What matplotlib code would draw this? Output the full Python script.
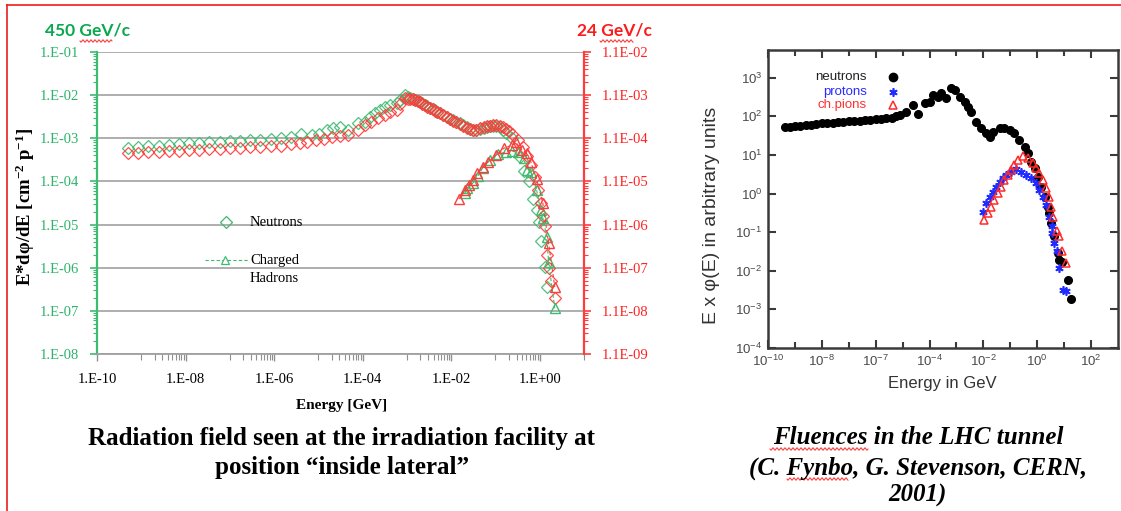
import numpy as np
import matplotlib
matplotlib.use("Agg")
import matplotlib.pyplot as plt
from matplotlib.lines import Line2D
from matplotlib.ticker import FixedLocator, FixedFormatter, NullFormatter

plt.rcParams['mathtext.default'] = 'regular'

# ---------------- Left chart data (log10 values) ----------------
n450_logE = [-9.30, -9.07, -8.84, -8.61, -8.38, -8.15, -7.92, -7.69, -7.46, -7.23, -7.00, -6.77,
             -6.54, -6.31, -6.08, -5.85, -5.62, -5.40, -5.15, -4.98, -4.81, -4.67, -4.51, -4.33,
             -4.11, -3.95, -3.84, -3.72, -3.61, -3.50, -3.39, -3.23, -3.16, -3.05, -2.98, -2.93,
             -2.87, -2.82, -2.76, -2.71, -2.65, -2.60, -2.54, -2.48, -2.42, -2.37, -2.31, -2.26,
             -2.18, -2.10, -2.03, -1.96, -1.88, -1.81, -1.73, -1.65, -1.58, -1.51, -1.43, -1.35,
             -1.27, -1.20, -1.13, -1.06, -0.98, -0.90, -0.83, -0.77, -0.63, -0.45, -0.36, -0.25,
             -0.16, -0.07, -0.02, 0.02, 0.11, 0.16]
n450_logV = [-3.23, -3.21, -3.19, -3.17, -3.15, -3.13, -3.11, -3.10, -3.09, -3.08, -3.07, -3.06,
             -3.05, -3.04, -3.02, -3.00, -2.96, -2.90, -2.93, -2.90, -2.81, -2.76, -2.74, -2.81,
             -2.65, -2.62, -2.51, -2.42, -2.35, -2.28, -2.23, -2.18, -2.11, -2.00, -2.04, -2.07,
             -2.09, -2.11, -2.13, -2.16, -2.19, -2.23, -2.26, -2.30, -2.32, -2.35, -2.38, -2.42,
             -2.46, -2.51, -2.55, -2.58, -2.62, -2.65, -2.70, -2.74, -2.78, -2.81, -2.80, -2.79,
             -2.76, -2.74, -2.72, -2.71, -2.72, -2.74, -2.80, -2.88, -3.00, -3.44, -3.76, -4.00,
             -4.40, -4.67, -4.94, -5.39, -5.99, -6.45]

n24_logE = [-9.30, -9.07, -8.84, -8.61, -8.38, -8.15, -7.92, -7.69, -7.46, -7.23, -7.00, -6.77,
            -6.54, -6.31, -6.08, -5.85, -5.62, -5.42, -5.25, -5.06, -4.88, -4.70, -4.51, -4.33,
            -4.11, -3.95, -3.80, -3.65, -3.50, -3.39, -3.23, -3.16, -3.05, -2.98, -2.93, -2.87,
            -2.82, -2.76, -2.71, -2.65, -2.60, -2.54, -2.48, -2.42, -2.37, -2.31, -2.26, -2.18,
            -2.10, -2.03, -1.96, -1.88, -1.81, -1.73, -1.65, -1.58, -1.51, -1.43, -1.35, -1.27,
            -1.20, -1.13, -1.06, -0.98, -0.90, -0.83, -0.77, -0.70, -0.63, -0.50, -0.38, -0.29,
            -0.20, -0.11, -0.05, 0.02, 0.07, 0.11, 0.16, 0.20, 0.25, 0.34]
n24_logV = [-3.35, -3.33, -3.32, -3.31, -3.30, -3.29, -3.28, -3.26, -3.25, -3.24, -3.23, -3.22,
            -3.21, -3.20, -3.19, -3.18, -3.14, -3.10, -3.09, -3.05, -3.01, -2.98, -2.95, -2.93,
            -2.81, -2.70, -2.62, -2.53, -2.46, -2.39, -2.35, -2.20, -2.07, -2.08, -2.09, -2.10,
            -2.12, -2.14, -2.17, -2.20, -2.23, -2.27, -2.30, -2.33, -2.36, -2.39, -2.42, -2.47,
            -2.51, -2.56, -2.59, -2.63, -2.67, -2.71, -2.75, -2.79, -2.81, -2.80, -2.77, -2.74,
            -2.72, -2.71, -2.70, -2.70, -2.71, -2.74, -2.78, -2.84, -2.90, -3.04, -3.20, -3.40,
            -3.62, -3.90, -4.20, -4.50, -4.80, -5.04, -5.71, -6.00, -6.31, -6.71]

h450_logE = [-1.69, -1.65, -1.51, -1.40, -1.29, -1.13, -0.95, -0.77, -0.63, -0.50, -0.36, -0.29,
             -0.20, -0.07, 0.02, 0.07, 0.16, 0.20, 0.34]
h450_logV = [-4.27, -4.16, -4.04, -3.88, -3.69, -3.51, -3.37, -3.32, -3.30, -3.32, -3.46, -3.74,
             -3.78, -4.20, -4.67, -4.85, -5.29, -5.87, -6.94]

h24_logE = [-1.83, -1.69, -1.60, -1.51, -1.42, -1.29, -1.17, -0.99, -0.81, -0.63, -0.54, -0.41,
            -0.29, -0.20, -0.07, 0.07, 0.20, 0.34]
h24_logV = [-4.41, -4.20, -4.09, -3.97, -3.81, -3.67, -3.55, -3.39, -3.23, -3.16, -3.09, -3.27,
            -3.34, -3.55, -3.95, -4.50, -5.43, -6.45]

left_xticks = [1e-10, 1e-8, 1e-6, 1e-4, 1e-2, 1e0]
left_xlabels = ['1.E-10', '1.E-08', '1.E-06', '1.E-04', '1.E-02', '1.E+00']
left_yticks = [1e-8, 1e-7, 1e-6, 1e-5, 1e-4, 1e-3, 1e-2, 1e-1]
left_ylabels = ['1.E-08', '1.E-07', '1.E-06', '1.E-05', '1.E-04', '1.E-03', '1.E-02', '1.E-01']
right_yticks = [1.1e-9, 1.1e-8, 1.1e-7, 1.1e-6, 1.1e-5, 1.1e-4, 1.1e-3, 1.1e-2]
right_ylabels = ['1.1E-09', '1.1E-08', '1.1E-07', '1.1E-06', '1.1E-05', '1.1E-04', '1.1E-03', '1.1E-02']

# ---------------- Right chart data (log10 values) ----------------
rn_logE = [-9.37, -9.2, -9.0, -8.8, -8.6, -8.4, -8.2, -8.0, -7.8, -7.6, -7.4, -7.2, -7.0, -6.8,
           -6.6, -6.4, -6.2, -6.0, -5.8, -5.6, -5.4, -5.25, -5.11, -4.86, -4.62, -4.44, -4.18,
           -4.00, -3.88, -3.70, -3.56, -3.38, -3.19, -3.07, -2.88, -2.70, -2.58, -2.45, -2.26,
           -2.08, -1.89, -1.77, -1.65, -1.40, -1.22, -1.03, -0.85, -0.66, -0.47, -0.35, -0.23,
           -0.10, 0.02, 0.14, 0.27, 0.39, 0.45, 0.51, 0.64, 0.76, 0.82, 0.92, 1.13, 1.25]
rn_logV = [1.72, 1.73, 1.75, 1.76, 1.78, 1.79, 1.80, 1.82, 1.83, 1.84, 1.85, 1.86, 1.87, 1.88,
           1.89, 1.90, 1.91, 1.93, 1.94, 1.95, 1.97, 2.00, 2.03, 2.12, 2.29, 2.06, 2.34,
           2.38, 2.55, 2.51, 2.60, 2.47, 2.73, 2.68, 2.51, 2.38, 2.25, 2.12, 1.86,
           1.69, 1.56, 1.47, 1.60, 1.69, 1.69, 1.65, 1.56, 1.39, 1.22, 1.04, 0.83,
           0.66, 0.44, 0.18, -0.08, -0.34, -0.51, -0.77, -1.11, -1.54, -1.72, -1.76, -2.23, -2.73]

rp_logE = [-2.02, -1.89, -1.77, -1.65, -1.52, -1.40, -1.28, -1.15, -0.97, -0.78, -0.60, -0.41,
           -0.23, -0.04, 0.08, 0.20, 0.33, 0.45, 0.55, 0.55, 0.64, 0.72, 0.80, 0.97, 1.05]
rp_logV = [-0.47, -0.25, -0.08, 0.05, 0.18, 0.31, 0.40, 0.48, 0.57, 0.63, 0.57, 0.48,
           0.40, 0.27, 0.10, -0.08, -0.29, -0.60, -0.85, -1.03, -1.28, -1.50, -1.93, -2.49, -2.53]

rpi_logE = [-1.96, -1.83, -1.71, -1.59, -1.46, -1.34, -1.22, -1.09, -0.97, -0.85, -0.72, -0.54,
            -0.35, -0.17, -0.04, 0.08, 0.20, 0.33, 0.43, 0.51, 0.60, 0.72, 0.81, 0.91, 1.05]
rpi_logV = [-0.68, -0.51, -0.34, -0.16, 0.01, 0.18, 0.35, 0.48, 0.61, 0.74, 0.87, 0.97,
            0.91, 0.79, 0.66, 0.53, 0.35, 0.14, -0.08, -0.34, -0.60, -0.98, -1.11, -1.50, -1.79]

rx_ticks = [1e-10, 1e-8, 1e-6, 1e-4, 1e-2, 1e0, 1e2]
rx_labels = [r'$10^{-10}$', r'$10^{-8}$', r'$10^{-7}$', r'$10^{-4}$', r'$10^{-2}$', r'$10^{0}$', r'$10^{2}$']
ry_ticks = [1e-4, 1e-3, 1e-2, 1e-1, 1e0, 1e1, 1e2, 1e3]
ry_labels = [r'$10^{-4}$', r'$10^{-3}$', r'$10^{-2}$', r'$10^{-1}$', r'$10^{0}$', r'$10^{1}$', r'$10^{2}$', r'$10^{3}$']

# ---------------- Figure ----------------
W, H = 1121, 511
fig = plt.figure(figsize=(W / 100, H / 100), dpi=100)
fig.patch.set_facecolor('white')

def fx(px):
    return px / W

def fy(py):
    return 1 - py / H

GREEN = '#3dbb6e'
GREEN_T = '#2db36a'
RED = '#ff3b3b'
RED_T = '#ff2222'
SERIF = 'Liberation Serif'
SANS = 'Liberation Sans'

# red slide frame
fig.add_artist(Line2D([fx(7), fx(7)], [fy(511), fy(5)], color='#ee1c1c', lw=1.2))
fig.add_artist(Line2D([fx(7), 1.0], [fy(5), fy(5)], color='#ee1c1c', lw=1.2))

# ---- left chart ----
ax = fig.add_axes([fx(97), fy(354), fx(584) - fx(97), fy(52) - fy(354)])
ax.set_xscale('log')
ax.set_yscale('log')
ax.set_xlim(1e-10, 1e1)
ax.set_ylim(1e-8, 1e-1)
ax.set_facecolor('none')

for k in left_yticks:
    ax.axhline(k, color='#a8a8a8', lw=1.3, zorder=0)

for s in ['top', 'right']:
    ax.spines[s].set_visible(False)
ax.spines['left'].set_color(GREEN)
ax.spines['left'].set_linewidth(1.6)
ax.spines['bottom'].set_color('#a0a0a0')
ax.spines['bottom'].set_linewidth(1.3)

ax.xaxis.set_major_locator(FixedLocator(left_xticks))
ax.xaxis.set_major_formatter(FixedFormatter(left_xlabels))
x_minor = [m * 10.0 ** (e + 1) for e in range(-10, 1, 2) for m in range(1, 10)]
ax.xaxis.set_minor_locator(FixedLocator(x_minor))
ax.xaxis.set_minor_formatter(NullFormatter())
ax.tick_params(axis='x', which='major', direction='out', length=5, width=1, color='#909090',
               labelsize=10.5, pad=9, labelcolor='black')
ax.tick_params(axis='x', which='minor', direction='out', length=4, width=0.8, color='#909090')
for t in ax.get_xticklabels():
    t.set_fontfamily(SERIF)

ax.yaxis.set_major_locator(FixedLocator(left_yticks))
ax.yaxis.set_major_formatter(FixedFormatter(left_ylabels))
y_minor = [m * 10.0 ** e for e in range(-8, -1) for m in range(2, 10)]
ax.yaxis.set_minor_locator(FixedLocator(y_minor))
ax.yaxis.set_minor_formatter(NullFormatter())
ax.tick_params(axis='y', which='major', direction='out', length=5, width=1.2, color=GREEN,
               labelsize=10.5, pad=8, labelcolor=GREEN_T)
ax.tick_params(axis='y', which='minor', direction='out', length=3, width=0.8, color=GREEN)
for t in ax.get_yticklabels():
    t.set_fontfamily(SERIF)

ax2 = ax.twinx()
ax2.set_yscale('log')
ax2.set_ylim(1.1e-9, 1.1e-2)
for s in ['top', 'left', 'bottom']:
    ax2.spines[s].set_visible(False)
ax2.spines['right'].set_color(RED)
ax2.spines['right'].set_linewidth(1.6)
ax2.yaxis.set_major_locator(FixedLocator(right_yticks))
ax2.yaxis.set_major_formatter(FixedFormatter(right_ylabels))
ax2.yaxis.set_minor_locator(FixedLocator([m * 1.1 * 10.0 ** e for e in range(-9, -2) for m in range(2, 10)]))
ax2.yaxis.set_minor_formatter(NullFormatter())
ax2.tick_params(axis='y', which='major', direction='out', length=5, width=1.2, color=RED,
                labelsize=10.5, pad=8, labelcolor=RED_T)
ax2.tick_params(axis='y', which='minor', direction='out', length=3, width=0.8, color=RED)
for t in ax2.get_yticklabels():
    t.set_fontfamily(SERIF)

def p10(a):
    return 10.0 ** np.asarray(a)

ax.plot(p10(n450_logE), p10(n450_logV), ls='none', marker='D', ms=6, mfc='none',
        mec=GREEN, mew=0.9, alpha=0.9, zorder=3)
ax.plot(p10(n24_logE), p10(n24_logV), ls='none', marker='D', ms=6, mfc='none',
        mec=RED, mew=0.9, alpha=0.9, zorder=3)
ax.plot(p10(h450_logE), p10(h450_logV), ls=(0, (3, 2)), lw=0.8, color=GREEN, marker='^', ms=7,
        mfc='none', mec=GREEN, mew=1.0, zorder=4)
ax.plot(p10(h24_logE), p10(h24_logV), ls=(0, (3, 2)), lw=0.8, color=RED, marker='^', ms=7,
        mfc='none', mec=RED, mew=1.0, zorder=4)

# in-plot legend
ax.plot([0.265], [0.437], transform=ax.transAxes, marker='D', ms=6, mfc='none', mec=GREEN, mew=0.9)
ax.text(0.314, 0.437, 'Neutrons', transform=ax.transAxes, family=SERIF, fontsize=10.5,
        va='center', ha='left')
ax.plot([0.222, 0.312], [0.311, 0.311], transform=ax.transAxes, ls=(0, (3, 2)), lw=0.8, color=GREEN)
ax.plot([0.262], [0.311], transform=ax.transAxes, marker='^', ms=6, mfc='white', mec=GREEN, mew=0.9)
ax.text(0.314, 0.311, 'Charged', transform=ax.transAxes, family=SERIF, fontsize=10.5,
        va='center', ha='left')
ax.text(0.314, 0.251, 'Hadrons', transform=ax.transAxes, family=SERIF, fontsize=10.5,
        va='center', ha='left')

fig.text(fx(45), fy(30), '450 GeV/c', family='Lato', weight='bold', fontsize=12.5,
         color='#0aa84f', va='center', ha='left')
fig.text(fx(577), fy(30), '24 GeV/c', family='Lato', weight='bold', fontsize=12.5,
         color='#ff1a1a', va='center', ha='left')
fig.text(fx(25), fy(207), r'E*dφ/dE [cm$^{-2}$ p$^{-1}$]', family=SERIF, weight='bold',
         fontsize=13.5, rotation=90, va='center', ha='center')
fig.text(fx(342), fy(405), 'Energy [GeV]', family=SERIF, weight='bold', fontsize=11,
         va='center', ha='center')
fig.text(fx(342), fy(438), 'Radiation field seen at the irradiation facility at', family=SERIF,
         weight='bold', fontsize=18, va='center', ha='center')
fig.text(fx(342), fy(467), 'position \u201cinside lateral\u201d', family=SERIF,
         weight='bold', fontsize=18, va='center', ha='center')

# ---- right chart ----
FR = '#3a3a3a'
TL = '#4a4a4a'
ax3 = fig.add_axes([fx(768), fy(348), fx(1118) - fx(768), fy(50) - fy(348)])
ax3.set_xscale('log')
ax3.set_yscale('log')
ax3.set_xlim(1e-10, 1e3)
ax3.set_ylim(1e-4, 10 ** 3.72)
for s in ax3.spines.values():
    s.set_color(FR)
    s.set_linewidth(1.8)
ax3.xaxis.set_major_locator(FixedLocator(rx_ticks))
ax3.xaxis.set_major_formatter(FixedFormatter(rx_labels))
ax3.xaxis.set_minor_locator(FixedLocator([10.0 ** e for e in range(-9, 3, 2)]))
ax3.xaxis.set_minor_formatter(NullFormatter())
ax3.yaxis.set_major_locator(FixedLocator(ry_ticks))
ax3.yaxis.set_major_formatter(FixedFormatter(ry_labels))
ax3.yaxis.set_minor_locator(FixedLocator([]))
ax3.tick_params(which='both', direction='in', top=True, right=True, color=FR, width=1.5)
ax3.tick_params(which='major', length=6, labelsize=9.5, labelcolor=TL, pad=4)
ax3.tick_params(which='minor', length=4)
for t in ax3.get_xticklabels() + ax3.get_yticklabels():
    t.set_fontfamily(SANS)

ax3.plot(p10(rn_logE), p10(rn_logV), ls='none', marker='o', ms=5.5, color='black', zorder=3)
ax3.plot(p10(rp_logE), p10(rp_logV), ls='none', marker=(6, 2, 0), ms=6, mec='#1f2bff', mew=1.2,
         zorder=4)
ax3.plot(p10(rpi_logE), p10(rpi_logV), ls='none', marker='^', ms=5.5, mfc='none', mec='#ff2a2a',
         mew=1.1, zorder=5)

# right legend
leg_y = [76.7, 91.7, 105]
leg_txt = ['neutrons', 'protons', 'ch.pions']
leg_col = ['#222222', '#2a2aff', '#ff3030']
fig.text(fx(867), fy(leg_y[0]), leg_txt[0], family=SANS, fontsize=9.5, color=leg_col[0], ha='right', va='center')
fig.text(fx(867), fy(leg_y[1]), leg_txt[1], family=SANS, fontsize=9.5, color=leg_col[1], ha='right', va='center')
fig.text(fx(867), fy(leg_y[2]), leg_txt[2], family=SANS, fontsize=9.5, color=leg_col[2], ha='right', va='center')
fig.add_artist(Line2D([fx(893)], [fy(leg_y[0])], marker='o', ms=6, color='black'))
fig.add_artist(Line2D([fx(893)], [fy(leg_y[1])], marker=(6, 2, 0), ms=6, mec='#1f2bff', mew=1.2))
fig.add_artist(Line2D([fx(893)], [fy(leg_y[2])], marker='^', ms=5.5, mfc='none', mec='#ff2a2a', mew=1.1))

fig.text(fx(712), fy(215), 'E x φ(E) in arbitrary units', family=SANS, fontsize=14,
         color='#333333', rotation=90, va='center', ha='center')
fig.text(fx(942), fy(383), 'Energy in GeV', family=SANS, fontsize=12, color='#333333',
         va='center', ha='center')
fig.text(fx(918), fy(438), 'Fluences in the LHC tunnel', family=SERIF, weight='bold',
         style='italic', fontsize=18, va='center', ha='center')
fig.text(fx(918), fy(468), '(C. Fynbo, G. Stevenson, CERN,', family=SERIF, weight='bold',
         style='italic', fontsize=18, va='center', ha='center')
fig.text(fx(918), fy(495), '2001)', family=SERIF, weight='bold',
         style='italic', fontsize=18, va='center', ha='center')

# spell-check squiggles
def squiggle(x0, x1, y):
    xs = np.linspace(x0, x1, int((x1 - x0) * 1.5) + 2)
    ys = y + 1.2 * np.sin((xs - x0) * np.pi / 2.0)
    fig.add_artist(Line2D(xs / W, 1 - ys / H, color='#ff2a2a', lw=0.7))

squiggle(80, 112, 41)
squiggle(600, 633, 41)
squiggle(770, 868, 449)
squiggle(787, 848, 479)

fig.savefig('out.png', dpi=100, facecolor='white')
